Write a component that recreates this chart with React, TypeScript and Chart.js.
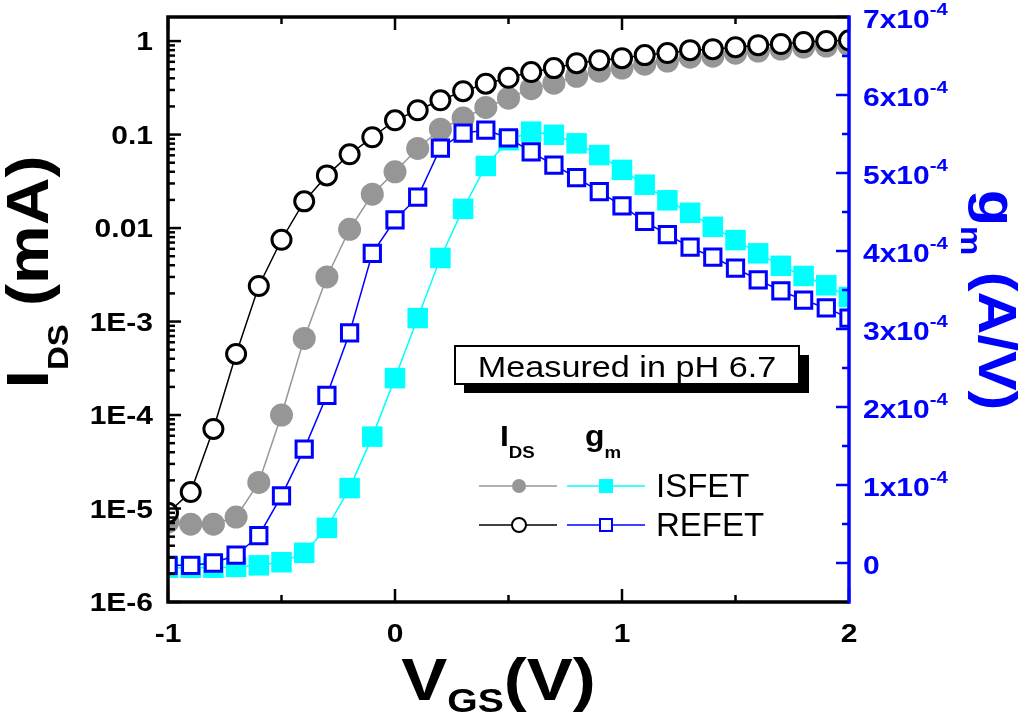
import { useEffect, useRef } from 'react';
import { Chart, registerables } from 'chart.js';

Chart.register(...registerables);

// gate voltage sweep (V)
const vgs = [
  -1.0, -0.9, -0.8, -0.7, -0.6, -0.5, -0.4, -0.3, -0.2, -0.1,
  0.0, 0.1, 0.2, 0.3, 0.4, 0.5, 0.6, 0.7, 0.8, 0.9,
  1.0, 1.1, 1.2, 1.3, 1.4, 1.5, 1.6, 1.7, 1.8, 1.9, 2.0,
];

// drain current (mA), left log axis
const isfetIds = [
  7.2e-6, 6.8e-6, 6.8e-6, 8.1e-6, 1.9e-5, 1.0e-4, 6.6e-4, 3.0e-3, 9.7e-3, 0.023,
  0.04, 0.071, 0.114, 0.15, 0.195, 0.245, 0.31, 0.355, 0.42, 0.477,
  0.514, 0.567, 0.611, 0.673, 0.69, 0.742, 0.781, 0.822, 0.862, 0.884, 0.9,
];
const refetIds = [
  9e-6, 1.5e-5, 7.1e-5, 4.5e-4, 2.4e-3, 7.5e-3, 0.0193, 0.0366, 0.0615, 0.0936,
  0.142, 0.182, 0.233, 0.291, 0.35, 0.405, 0.466, 0.514, 0.58, 0.625,
  0.657, 0.708, 0.744, 0.8, 0.82, 0.86, 0.905, 0.93, 0.975, 1.0, 1.02,
];

// transconductance (A/V), right linear axis
const isfetGm = [
  -0.06e-4, -0.06e-4, -0.06e-4, -0.05e-4, -0.03e-4, 0.01e-4, 0.13e-4, 0.45e-4, 0.96e-4, 1.62e-4,
  2.37e-4, 3.14e-4, 3.91e-4, 4.54e-4, 5.09e-4, 5.42e-4, 5.53e-4, 5.49e-4, 5.38e-4, 5.23e-4,
  5.04e-4, 4.85e-4, 4.65e-4, 4.49e-4, 4.31e-4, 4.14e-4, 3.97e-4, 3.81e-4, 3.68e-4, 3.56e-4, 3.41e-4,
];
const refetGm = [
  -0.03e-4, -0.03e-4, 0.0, 0.1e-4, 0.35e-4, 0.86e-4, 1.46e-4, 2.15e-4, 2.95e-4, 3.97e-4,
  4.4e-4, 4.69e-4, 5.32e-4, 5.51e-4, 5.55e-4, 5.45e-4, 5.27e-4, 5.1e-4, 4.94e-4, 4.76e-4,
  4.58e-4, 4.38e-4, 4.21e-4, 4.05e-4, 3.92e-4, 3.78e-4, 3.63e-4, 3.49e-4, 3.37e-4, 3.27e-4, 3.14e-4,
];

// axis ticks
const xMajor = [-1, 0, 1, 2];
const xMinor = [-0.5, 0.5, 1.5];
const xLabels = ['-1', '0', '1', '2'];
const idsDecades = [1e-6, 1e-5, 1e-4, 1e-3, 0.01, 0.1, 1];
const idsLabels = ['1E-6', '1E-5', '1E-4', '1E-3', '0.01', '0.1', '1'];
const gmMajor = [0, 1e-4, 2e-4, 3e-4, 4e-4, 5e-4, 6e-4, 7e-4];
const gmMinor = [0.5e-4, 1.5e-4, 2.5e-4, 3.5e-4, 4.5e-4, 5.5e-4, 6.5e-4];
const gmMantissa = ['0', '1', '2', '3', '4', '5', '6', '7'];

const FONT = '"Liberation Sans", Arial, Helvetica, sans-serif';
const BLUE = '#0000ff';
const CYAN = '#00ffff';
const GRAY = '#969696';

type Run = { t: string; size: number; dy: number; bold?: boolean };

function drawRuns(
  ctx: CanvasRenderingContext2D,
  runs: Run[],
  x: number,
  y: number,
  align: 'left' | 'right' | 'center',
  sx: number,
  color: string
) {
  ctx.save();
  ctx.fillStyle = color;
  ctx.textBaseline = 'alphabetic';
  ctx.textAlign = 'left';
  const fontOf = (r: Run) => `${r.bold === false ? '' : 'bold '}${r.size}px ${FONT}`;
  const widths = runs.map((r) => {
    ctx.font = fontOf(r);
    return ctx.measureText(r.t).width * sx;
  });
  const total = widths.reduce((a, b) => a + b, 0);
  let cx = align === 'left' ? x : align === 'right' ? x - total : x - total / 2;
  runs.forEach((r, i) => {
    ctx.font = fontOf(r);
    ctx.save();
    ctx.translate(cx, y + r.dy);
    ctx.scale(sx, 1);
    ctx.fillText(r.t, 0, 0);
    ctx.restore();
    cx += widths[i];
  });
  ctx.restore();
}

function line(ctx: CanvasRenderingContext2D, x1: number, y1: number, x2: number, y2: number) {
  ctx.beginPath();
  ctx.moveTo(x1, y1);
  ctx.lineTo(x2, y2);
  ctx.stroke();
}

const framePlugin = {
  id: 'originFrame',
  afterDraw(chart: any) {
    const ctx: CanvasRenderingContext2D = chart.ctx;
    const { left, right, top, bottom } = chart.chartArea;
    const sx = chart.scales.x;
    const sy = chart.scales.y;
    const sy1 = chart.scales.y1;
    const MAJ = 13;
    const MIN = 7;

    ctx.save();
    ctx.lineCap = 'butt';

    // ticks, pointing inward
    ctx.strokeStyle = '#000';
    ctx.lineWidth = 2.5;
    xMajor.forEach((v) => {
      const px = sx.getPixelForValue(v);
      line(ctx, px, bottom, px, bottom - MAJ);
      line(ctx, px, top, px, top + MAJ);
    });
    xMinor.forEach((v) => {
      const px = sx.getPixelForValue(v);
      line(ctx, px, bottom, px, bottom - MIN);
      line(ctx, px, top, px, top + MIN);
    });
    idsDecades.forEach((d) => {
      const py = sy.getPixelForValue(d);
      line(ctx, left, py, left + MAJ, py);
      for (let m = 2; m <= 9; m++) {
        const v = m * d;
        if (v > sy.max) break;
        const p = sy.getPixelForValue(v);
        line(ctx, left, p, left + MIN, p);
      }
    });
    ctx.strokeStyle = BLUE;
    gmMajor.forEach((v) => {
      const py = sy1.getPixelForValue(v);
      line(ctx, right, py, right - MAJ, py);
    });
    gmMinor.forEach((v) => {
      const py = sy1.getPixelForValue(v);
      line(ctx, right, py, right - MIN, py);
    });

    // frame
    ctx.lineWidth = 3.5;
    ctx.strokeStyle = '#000';
    ctx.beginPath();
    ctx.moveTo(right, top);
    ctx.lineTo(left, top);
    ctx.lineTo(left, bottom);
    ctx.lineTo(right, bottom);
    ctx.stroke();
    ctx.strokeStyle = BLUE;
    line(ctx, right, top - 1.75, right, bottom + 1.75);

    // tick labels
    xMajor.forEach((v, i) => {
      drawRuns(ctx, [{ t: xLabels[i], size: 25, dy: 0 }], sx.getPixelForValue(v), bottom + 40, 'center', 1.2, '#000');
    });
    idsDecades.forEach((v, i) => {
      drawRuns(ctx, [{ t: idsLabels[i], size: 25, dy: 0 }], left - 15, sy.getPixelForValue(v) + 9, 'right', 1.2, '#000');
    });
    gmMajor.forEach((v, i) => {
      const runs: Run[] = i === 0
        ? [{ t: gmMantissa[i], size: 25, dy: 0 }]
        : [{ t: gmMantissa[i] + 'x10', size: 25, dy: 0 }, { t: '-4', size: 17, dy: -13 }];
      drawRuns(ctx, runs, right + 14, sy1.getPixelForValue(v) + 11, 'left', 1.2, BLUE);
    });

    // axis titles
    drawRuns(
      ctx,
      [{ t: 'V', size: 60, dy: 0 }, { t: 'GS', size: 34, dy: 12 }, { t: '(V)', size: 60, dy: 0 }],
      (left + right) / 2 - 10, 700, 'center', 1.15, '#000'
    );
    ctx.save();
    ctx.translate(48, 272);
    ctx.rotate(-Math.PI / 2);
    drawRuns(
      ctx,
      [{ t: 'I', size: 60, dy: 0 }, { t: 'DS', size: 30, dy: 20 }, { t: ' (mA)', size: 60, dy: 0 }],
      0, 0, 'center', 1.1, '#000'
    );
    ctx.restore();
    ctx.save();
    ctx.translate(979, 300);
    ctx.rotate(Math.PI / 2);
    drawRuns(
      ctx,
      [{ t: 'g', size: 54, dy: 0 }, { t: 'm', size: 30, dy: 18 }, { t: ' (A/V)', size: 54, dy: 0 }],
      0, 0, 'center', 1.1, BLUE
    );
    ctx.restore();

    // note box with drop shadow
    ctx.fillStyle = '#000';
    ctx.fillRect(464, 355, 345, 38);
    ctx.fillStyle = '#fff';
    ctx.fillRect(455, 346, 344, 38);
    ctx.lineWidth = 2;
    ctx.strokeStyle = '#000';
    ctx.strokeRect(455, 346, 344, 38);
    drawRuns(ctx, [{ t: 'Measured in pH 6.7', size: 30, dy: 0, bold: false }], 627, 377, 'center', 1.14, '#000');

    // legend
    drawRuns(ctx, [{ t: 'I', size: 29, dy: 0 }, { t: 'DS', size: 17, dy: 12 }], 500, 446, 'left', 1.1, '#000');
    drawRuns(ctx, [{ t: 'g', size: 29, dy: 0 }, { t: 'm', size: 17, dy: 12 }], 585, 446, 'left', 1.1, '#000');

    const rows = [
      { y: 486, idsColor: GRAY, gmColor: CYAN, open: false, label: 'ISFET' },
      { y: 525, idsColor: '#000', gmColor: BLUE, open: true, label: 'REFET' },
    ];
    rows.forEach((r) => {
      ctx.lineWidth = 1.5;
      ctx.strokeStyle = r.idsColor;
      line(ctx, 479, r.y, 557, r.y);
      ctx.strokeStyle = r.gmColor;
      line(ctx, 567, r.y, 645, r.y);
      ctx.beginPath();
      ctx.arc(519, r.y, 7, 0, Math.PI * 2);
      if (r.open) {
        ctx.fillStyle = '#fff';
        ctx.fill();
        ctx.lineWidth = 2;
        ctx.strokeStyle = r.idsColor;
        ctx.stroke();
        ctx.fillRect(600, r.y - 6, 12, 12);
        ctx.strokeStyle = r.gmColor;
        ctx.strokeRect(600, r.y - 6, 12, 12);
      } else {
        ctx.fillStyle = r.idsColor;
        ctx.fill();
        ctx.fillStyle = r.gmColor;
        ctx.fillRect(599, r.y - 7, 14, 14);
      }
      drawRuns(ctx, [{ t: r.label, size: 33, dy: 0, bold: false }], 656, r.y + 11, 'left', 1.0, '#000');
    });

    ctx.restore();
  },
};

const pts = (ys: number[]) => vgs.map((x, i) => ({ x, y: ys[i] }));

export default function App() {
  const canvasRef = useRef<HTMLCanvasElement | null>(null);

  useEffect(() => {
    let chart: Chart | null = null;
    if (canvasRef.current) {
      chart = new Chart(canvasRef.current, {
        type: 'line',
        data: {
          datasets: [
            {
              label: 'REFET gm',
              data: pts(refetGm),
              yAxisID: 'y1',
              borderColor: BLUE,
              borderWidth: 1.5,
              pointStyle: 'rect',
              pointRadius: 11.5,
              pointBorderWidth: 3,
              pointBorderColor: BLUE,
              pointBackgroundColor: '#fff',
              clip: 0,
              order: 1,
            },
            {
              label: 'ISFET gm',
              data: pts(isfetGm),
              yAxisID: 'y1',
              borderColor: CYAN,
              borderWidth: 1.5,
              pointStyle: 'rect',
              pointRadius: 14.5,
              pointBorderWidth: 0,
              pointBackgroundColor: CYAN,
              clip: 0,
              order: 2,
            },
            {
              label: 'REFET IDS',
              data: pts(refetIds),
              yAxisID: 'y',
              borderColor: '#000',
              borderWidth: 1.5,
              pointStyle: 'circle',
              pointRadius: 9.5,
              pointBorderWidth: 3,
              pointBorderColor: '#000',
              pointBackgroundColor: '#fff',
              clip: 0,
              order: 3,
            },
            {
              label: 'ISFET IDS',
              data: pts(isfetIds),
              yAxisID: 'y',
              borderColor: GRAY,
              borderWidth: 1.5,
              pointStyle: 'circle',
              pointRadius: 11.5,
              pointBorderWidth: 0,
              pointBackgroundColor: GRAY,
              clip: 0,
              order: 4,
            },
          ] as any,
        },
        options: {
          animation: false,
          responsive: true,
          maintainAspectRatio: false,
          layout: { padding: { top: 17, left: 0, right: 0, bottom: 0 } },
          elements: { line: { tension: 0 } },
          plugins: { legend: { display: false }, tooltip: { enabled: false } },
          scales: {
            x: {
              type: 'linear',
              position: 'bottom',
              min: -1,
              max: 2,
              grid: { display: false },
              border: { display: false },
              ticks: { display: false },
              afterFit: (s: any) => { s.height = 118; },
            },
            y: {
              type: 'logarithmic',
              position: 'left',
              min: 1e-6,
              max: 1.81,
              grid: { display: false },
              border: { display: false },
              ticks: { display: false },
              afterFit: (s: any) => { s.width = 168; },
            },
            y1: {
              type: 'linear',
              position: 'right',
              min: -0.5e-4,
              max: 7e-4,
              grid: { display: false },
              border: { display: false },
              ticks: { display: false },
              afterFit: (s: any) => { s.width = 175; },
            },
          },
        } as any,
        plugins: [framePlugin],
      });
    }
    return () => {
      if (chart) chart.destroy();
    };
  }, []);

  return (
    <div style={{ position: 'absolute', left: 0, top: 0, width: 1024, height: 720, background: '#fff' }}>
      <canvas ref={canvasRef}></canvas>
    </div>
  );
}
